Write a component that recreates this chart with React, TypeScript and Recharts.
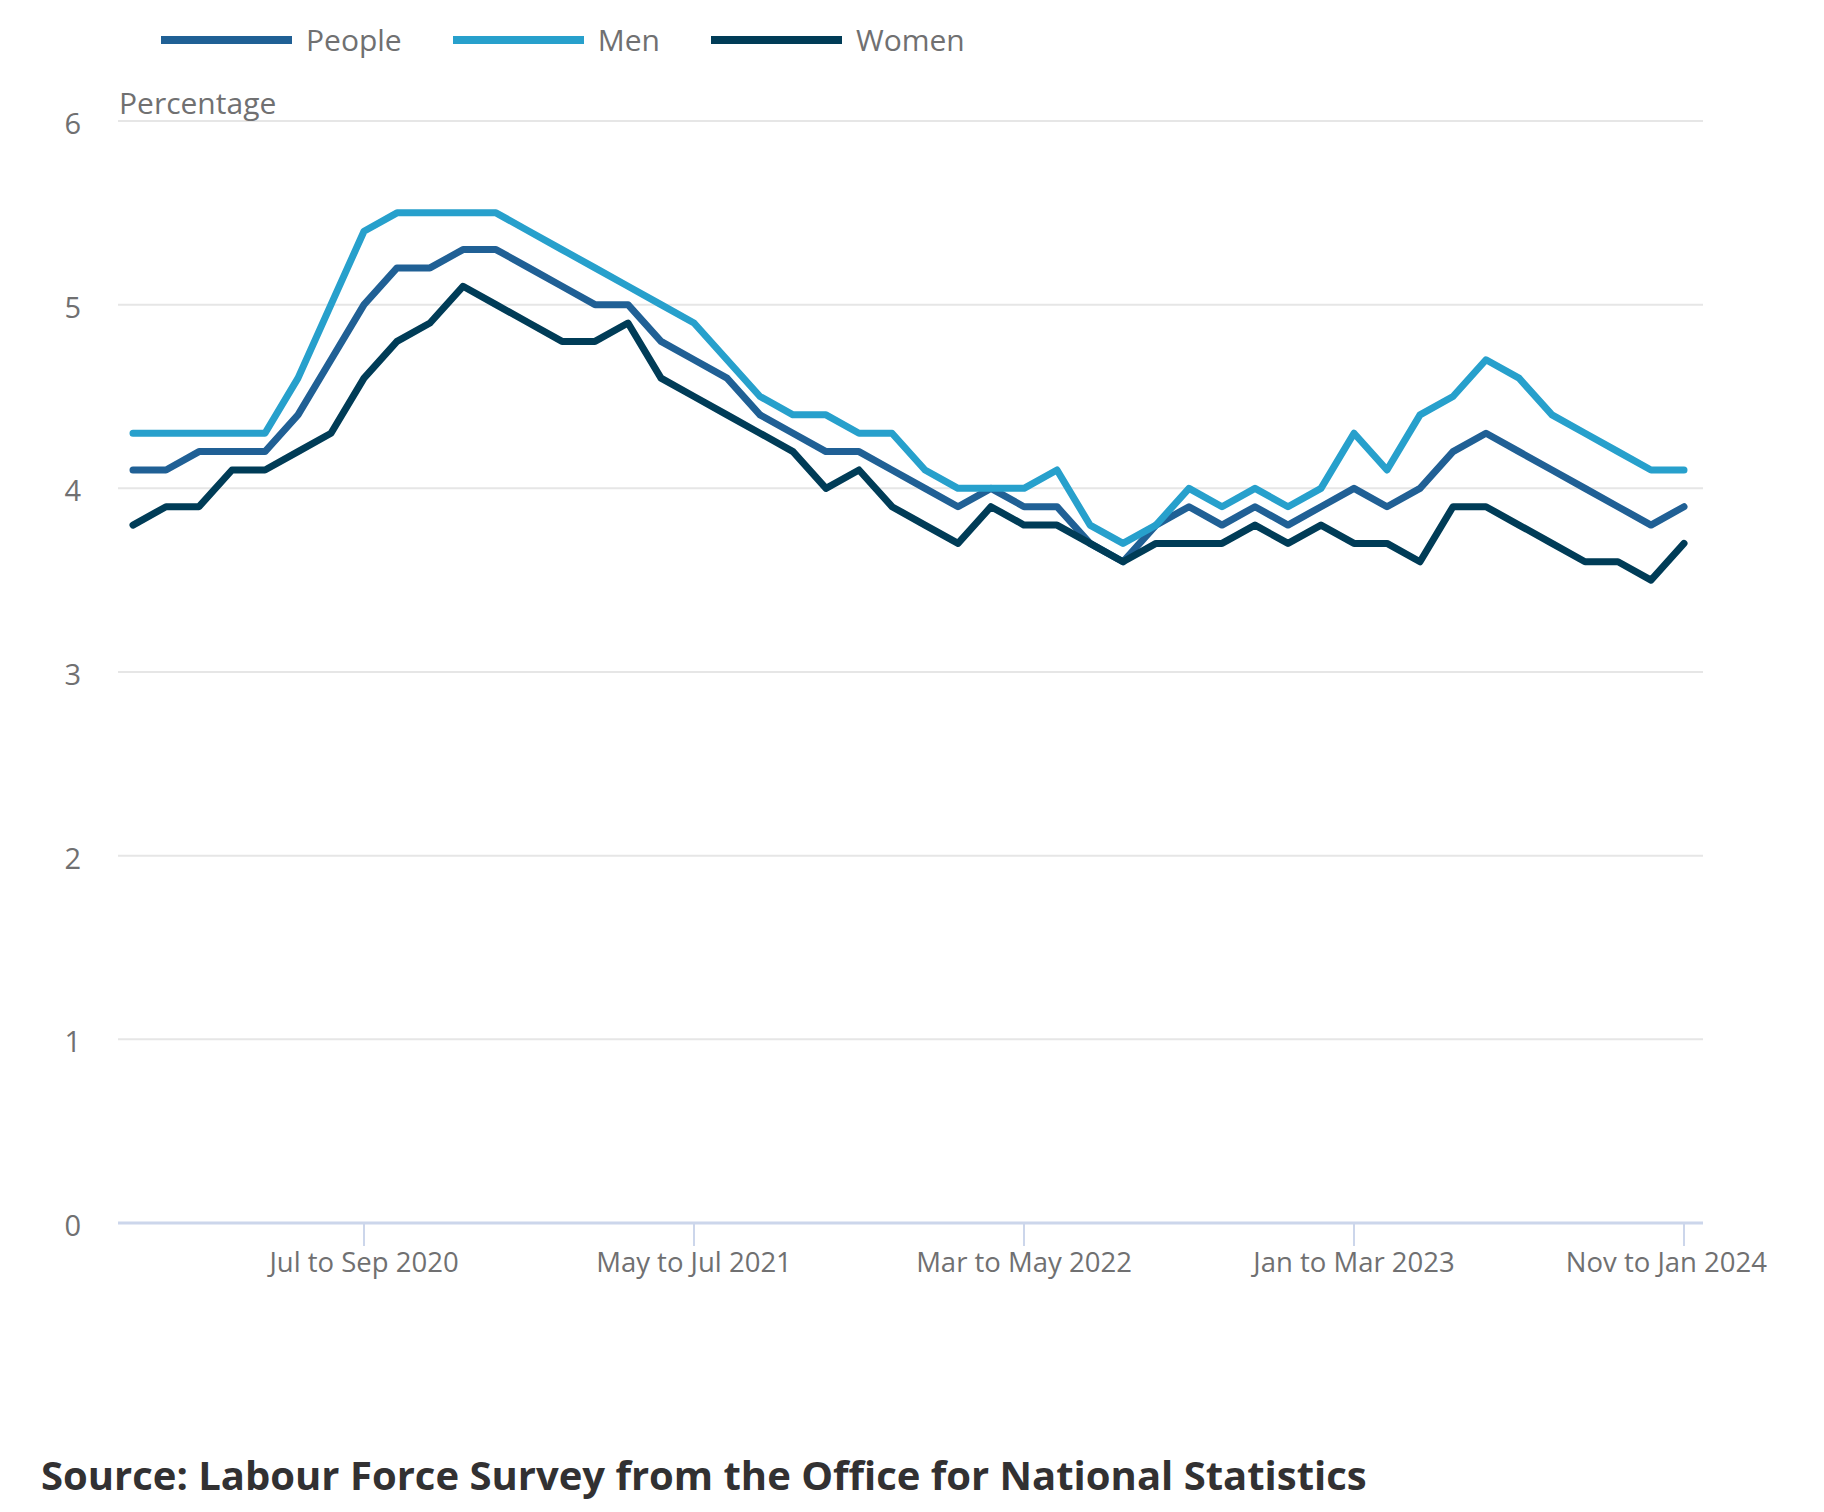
import React from "react";
import { LineChart, Line, XAxis, YAxis, CartesianGrid, Legend, Label } from "recharts";

const categories = [
  "Dec to Feb 2020", "Jan to Mar 2020", "Feb to Apr 2020", "Mar to May 2020", "Apr to Jun 2020",
  "May to Jul 2020", "Jun to Aug 2020", "Jul to Sep 2020", "Aug to Oct 2020", "Sep to Nov 2020",
  "Oct to Dec 2020", "Nov to Jan 2021", "Dec to Feb 2021", "Jan to Mar 2021", "Feb to Apr 2021",
  "Mar to May 2021", "Apr to Jun 2021", "May to Jul 2021", "Jun to Aug 2021", "Jul to Sep 2021",
  "Aug to Oct 2021", "Sep to Nov 2021", "Oct to Dec 2021", "Nov to Jan 2022", "Dec to Feb 2022",
  "Jan to Mar 2022", "Feb to Apr 2022", "Mar to May 2022", "Apr to Jun 2022", "May to Jul 2022",
  "Jun to Aug 2022", "Jul to Sep 2022", "Aug to Oct 2022", "Sep to Nov 2022", "Oct to Dec 2022",
  "Nov to Jan 2023", "Dec to Feb 2023", "Jan to Mar 2023", "Feb to Apr 2023", "Mar to May 2023",
  "Apr to Jun 2023", "May to Jul 2023", "Jun to Aug 2023", "Jul to Sep 2023", "Aug to Oct 2023",
  "Sep to Nov 2023", "Oct to Dec 2023", "Nov to Jan 2024",
];

const people = [
  4.1, 4.1, 4.2, 4.2, 4.2, 4.4, 4.7, 5.0, 5.2, 5.2, 5.3, 5.3,
  5.2, 5.1, 5.0, 5.0, 4.8, 4.7, 4.6, 4.4, 4.3, 4.2, 4.2, 4.1,
  4.0, 3.9, 4.0, 3.9, 3.9, 3.7, 3.6, 3.8, 3.9, 3.8, 3.9, 3.8,
  3.9, 4.0, 3.9, 4.0, 4.2, 4.3, 4.2, 4.1, 4.0, 3.9, 3.8, 3.9,
];

const men = [
  4.3, 4.3, 4.3, 4.3, 4.3, 4.6, 5.0, 5.4, 5.5, 5.5, 5.5, 5.5,
  5.4, 5.3, 5.2, 5.1, 5.0, 4.9, 4.7, 4.5, 4.4, 4.4, 4.3, 4.3,
  4.1, 4.0, 4.0, 4.0, 4.1, 3.8, 3.7, 3.8, 4.0, 3.9, 4.0, 3.9,
  4.0, 4.3, 4.1, 4.4, 4.5, 4.7, 4.6, 4.4, 4.3, 4.2, 4.1, 4.1,
];

const women = [
  3.8, 3.9, 3.9, 4.1, 4.1, 4.2, 4.3, 4.6, 4.8, 4.9, 5.1, 5.0,
  4.9, 4.8, 4.8, 4.9, 4.6, 4.5, 4.4, 4.3, 4.2, 4.0, 4.1, 3.9,
  3.8, 3.7, 3.9, 3.8, 3.8, 3.7, 3.6, 3.7, 3.7, 3.7, 3.8, 3.7,
  3.8, 3.7, 3.7, 3.6, 3.9, 3.9, 3.8, 3.7, 3.6, 3.6, 3.5, 3.7,
];

const yTicks = [0, 1, 2, 3, 4, 5, 6];
const xTicks = ["Jul to Sep 2020", "May to Jul 2021", "Mar to May 2022", "Jan to Mar 2023", "Nov to Jan 2024"];

const seriesInfo = [
  { key: "people", name: "People", color: "#206095" },
  { key: "men", name: "Men", color: "#27a0cc" },
  { key: "women", name: "Women", color: "#003c57" },
];

const data = categories.map((period, i) => ({
  period,
  people: people[i],
  men: men[i],
  women: women[i],
}));

const FONT = "'Open Sans', sans-serif";
const TEXT = "#707071";
const TICK_FS = 27.5;
const LABEL_FS = 30;

function XTick(props: any) {
  const { x, y, payload } = props;
  const last = payload.value === xTicks[xTicks.length - 1];
  return (
    <text
      x={last ? x + 83 : x}
      y={y + 24}
      textAnchor={last ? "end" : "middle"}
      fontFamily={FONT}
      fontSize={TICK_FS}
      fill={TEXT}
    >
      {payload.value}
    </text>
  );
}

function YTick(props: any) {
  const { x, y, payload } = props;
  return (
    <text x={x} y={y + 13} textAnchor="end" fontFamily={FONT} fontSize={LABEL_FS - 1} fill={TEXT}>
      {payload.value}
    </text>
  );
}

function LegendContent() {
  return (
    <div style={{ display: "flex", alignItems: "center", fontFamily: FONT, fontSize: LABEL_FS, color: TEXT, whiteSpace: "nowrap" }}>
      {seriesInfo.map((s) => (
        <div key={s.key} style={{ display: "flex", alignItems: "center", marginRight: 51 }}>
          <span style={{ display: "inline-block", width: 131, height: 8, background: s.color, marginRight: 14 }} />
          <span>{s.name}</span>
        </div>
      ))}
    </div>
  );
}

function PercentLabel(props: any) {
  const vb = props.viewBox || {};
  return (
    <text x={vb.x + vb.width + 1} y={vb.y - 7} fontFamily={FONT} fontSize={LABEL_FS} fill={TEXT}>
      Percentage
    </text>
  );
}

export default function App() {
  return (
    <div style={{ position: "absolute", left: 0, top: 0, width: 1824, height: 1512, background: "#ffffff" }}>
      <LineChart
        width={1824}
        height={1400}
        data={data}
        margin={{ top: 121, right: 121, left: 0, bottom: 117 }}
      >
        <CartesianGrid vertical={false} stroke="#e6e6e6" strokeWidth={2} />
        <XAxis
          dataKey="period"
          type="category"
          ticks={xTicks}
          interval={0}
          height={60}
          padding={{ left: 15, right: 19 }}
          axisLine={{ stroke: "#ccd6eb", strokeWidth: 3 }}
          tickLine={{ stroke: "#ccd6eb", strokeWidth: 2 }}
          tickSize={23}
          tickMargin={2}
          tick={<XTick />}
        />
        <YAxis
          domain={[0, 6]}
          ticks={yTicks}
          width={118}
          axisLine={false}
          tickLine={false}
          tickSize={0}
          tickMargin={37}
          tick={<YTick />}
        >
          <Label content={<PercentLabel />} />
        </YAxis>
        <Legend
          layout="horizontal"
          verticalAlign="middle"
          align="center"
          content={<LegendContent />}
          wrapperStyle={{ top: 19, left: 161, width: "auto", margin: 0 }}
        />
        {seriesInfo.map((s) => (
          <Line
            key={s.key}
            type="linear"
            dataKey={s.key}
            name={s.name}
            stroke={s.color}
            strokeWidth={7}
            strokeLinejoin="round"
            strokeLinecap="round"
            dot={false}
            activeDot={false}
            isAnimationActive={false}
          />
        ))}
      </LineChart>
      <div
        style={{
          position: "absolute",
          left: 41,
          top: 1455,
          fontFamily: FONT,
          fontWeight: 700,
          fontSize: 40,
          lineHeight: 1,
          color: "#323132",
          whiteSpace: "nowrap",
        }}
      >
        Source: Labour Force Survey from the Office for National Statistics
      </div>
    </div>
  );
}
